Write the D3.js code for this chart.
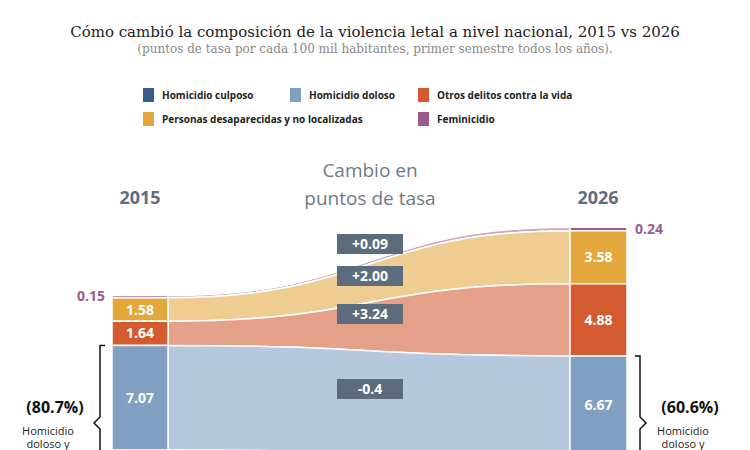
<!DOCTYPE html>
<html><head><meta charset="utf-8">
<script src="https://cdn.jsdelivr.net/npm/d3@7"></script>
<style>body{margin:0;background:#fff}text{font-family:"Open Sans",sans-serif}</style>
</head><body><svg id="c" width="750" height="450"></svg>
<script>
// categories, top to bottom of the stack
var categories = ['Feminicidio', 'Personas desaparecidas y no localizadas', 'Otros delitos contra la vida', 'Homicidio doloso', 'Homicidio culposo'];
var values2015 = [0.15, 1.58, 1.64, 7.07, 7.02];
var values2026 = [0.24, 3.58, 4.88, 6.67, 6.71];
var changeLabels = ['+0.09', '+2.00', '+3.24', '-0.4', '-0.31'];
var barColors = ['#9c5a92', '#e3a73c', '#d45a2f', '#809fc1', '#3b5b8b'];
var flowColors = ['#c9a6c4', '#efcd92', '#e4a089', '#b6c8dd', '#8aa3c4'];
var legendItems = [
  {name: 'Homicidio culposo', i: 4, x: 143, y: 95},
  {name: 'Homicidio doloso', i: 3, x: 290, y: 95},
  {name: 'Otros delitos contra la vida', i: 2, x: 418, y: 95},
  {name: 'Personas desaparecidas y no localizadas', i: 1, x: 143, y: 119},
  {name: 'Feminicidio', i: 0, x: 418, y: 119}
];

var W = 750, H = 450;
var svg = d3.select('#c');
var base = 554;
var y = d3.scaleLinear().domain([0, 22.08]).range([base, base - 22.08 * 14.8]);
var x0 = 112, x1 = 168, x2 = 570, x3 = 627;

// stack tops/bottoms
function stack(vals) {
  var out = [], acc = d3.sum(vals);
  vals.forEach(function(v) { out.push({top: acc, bot: acc - v, v: v}); acc -= v; });
  return out;
}
var s15 = stack(values2015), s26 = stack(values2026);

// title
svg.append('text').attr('x', 375).attr('y', 37).attr('text-anchor', 'middle')
  .style('font-family', 'DejaVu Serif, serif').style('font-size', '15px').attr('fill', '#222')
  .text('Cómo cambió la composición de la violencia letal a nivel nacional, 2015 vs 2026');
svg.append('text').attr('x', 375).attr('y', 53).attr('text-anchor', 'middle')
  .style('font-family', 'DejaVu Serif, serif').style('font-size', '12px').attr('fill', '#888')
  .text('(puntos de tasa por cada 100 mil habitantes, primer semestre todos los años).');

// legend
legendItems.forEach(function(d) {
  svg.append('rect').attr('x', d.x).attr('y', d.y - 7).attr('width', 11).attr('height', 14).attr('fill', barColors[d.i]);
  svg.append('text').attr('x', d.x + 19).attr('y', d.y + 4).style('font-size', '10px').style('font-weight', 'bold')
    .attr('fill', '#222').text(d.name);
});

// flows
var mid = (x1 + x2) / 2;
function flowPath(a, b) {
  return 'M' + x1 + ',' + y(a.top) + 'C' + mid + ',' + y(a.top) + ' ' + mid + ',' + y(b.top) + ' ' + x2 + ',' + y(b.top) +
    'L' + x2 + ',' + y(b.bot) + 'C' + mid + ',' + y(b.bot) + ' ' + mid + ',' + y(a.bot) + ' ' + x1 + ',' + y(a.bot) + 'Z';
}
categories.forEach(function(c, i) {
  svg.append('path').attr('d', flowPath(s15[i], s26[i])).attr('fill', flowColors[i]).attr('stroke', '#fff').attr('stroke-width', 1.5);
});

// bars
[[s15, x0, x1], [s26, x2, x3]].forEach(function(b) {
  b[0].forEach(function(d, i) {
    svg.append('rect').attr('x', b[1]).attr('width', b[2] - b[1]).attr('y', y(d.top)).attr('height', y(d.bot) - y(d.top))
      .attr('fill', barColors[i]).attr('stroke', '#fff').attr('stroke-width', 1.5);
    var ty = (y(d.top) + y(d.bot)) / 2 + 5;
    if (i > 0 && ty < H - 5) {
      svg.append('text').attr('x', (b[1] + b[2]) / 2).attr('y', ty).attr('text-anchor', 'middle')
        .style('font-size', '14px').style('font-weight', 'bold').attr('fill', '#fff').text(d.v.toFixed(2));
    }
  });
});
// feminicidio labels
svg.append('text').attr('x', 105).attr('y', y(s15[0].top) + 5).attr('text-anchor', 'end').style('font-size', '14px')
  .style('font-weight', 'bold').attr('fill', '#9c5a92').text(values2015[0].toFixed(2));
svg.append('text').attr('x', 635).attr('y', y(s26[0].top) + 7).style('font-size', '14px')
  .style('font-weight', 'bold').attr('fill', '#9c5a92').text(values2026[0].toFixed(2));

// year headers
svg.append('text').attr('x', 140).attr('y', 204).attr('text-anchor', 'middle').style('font-size', '18px').style('font-weight', 'bold').attr('fill', '#5e6e80').text('2015');
svg.append('text').attr('x', 598).attr('y', 204).attr('text-anchor', 'middle').style('font-size', '18px').style('font-weight', 'bold').attr('fill', '#5e6e80').text('2026');
svg.append('text').attr('x', 370).attr('y', 177).attr('text-anchor', 'middle').style('font-size', '19px').attr('fill', '#6c7a8a').text('Cambio en');
svg.append('text').attr('x', 370).attr('y', 205).attr('text-anchor', 'middle').style('font-size', '19px').attr('fill', '#6c7a8a').text('puntos de tasa');

// change labels (the last one falls below the visible area)
var labelY = [244, 276, 314, 389, 480];
changeLabels.forEach(function(t, i) {
  if (labelY[i] > H) return;
  svg.append('rect').attr('x', 337).attr('y', labelY[i] - 10).attr('width', 66).attr('height', 20).attr('fill', '#5d6c7c');
  svg.append('text').attr('x', 370).attr('y', labelY[i] + 5).attr('text-anchor', 'middle').style('font-size', '14px')
    .style('font-weight', 'bold').attr('fill', '#fff').text(t);
});

// brackets
function bracket(xb, top, dir) {
  var bot = base, m = 423;
  svg.append('path').attr('fill', 'none').attr('stroke', '#111').attr('stroke-width', 1.5)
    .attr('d', 'M' + (xb + 5 * dir) + ',' + top + 'L' + xb + ',' + top + 'L' + xb + ',' + (m - 6) +
      'L' + (xb - 6 * dir) + ',' + m + 'L' + xb + ',' + (m + 6) + 'L' + xb + ',' + bot);
}
bracket(100, y(s15[3].top), 1);
bracket(640, y(s26[3].top), -1);
svg.append('text').attr('x', 55).attr('y', 413).attr('text-anchor', 'middle').style('font-size', '16px').style('font-weight', 'bold').attr('fill', '#111').text('(80.7%)');
svg.append('text').attr('x', 690).attr('y', 413).attr('text-anchor', 'middle').style('font-size', '16px').style('font-weight', 'bold').attr('fill', '#111').text('(60.6%)');
[['Homicidio', 435], ['doloso y', 448]].forEach(function(t) {
  svg.append('text').attr('x', 48).attr('y', t[1]).attr('text-anchor', 'middle').style('font-size', '11px').attr('fill', '#222').text(t[0]);
  svg.append('text').attr('x', 683).attr('y', t[1]).attr('text-anchor', 'middle').style('font-size', '11px').attr('fill', '#222').text(t[0]);
});
</script></body></html>
